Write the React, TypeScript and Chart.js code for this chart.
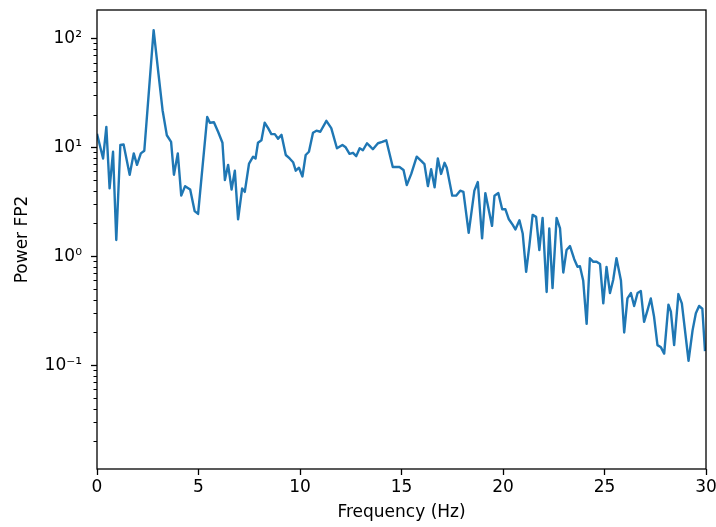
import React, { useEffect, useRef } from "react";
import { Chart, registerables } from "chart.js";

Chart.register(...registerables);

const freqs: number[] = [
  0, 0.30, 0.46, 0.62, 0.79, 0.95, 1.15, 1.31, 1.61, 1.81, 1.97, 2.16, 2.33, 2.79, 3.03, 3.23, 3.44, 3.65, 3.79, 3.98,
  4.15, 4.34, 4.59, 4.81, 4.98, 5.43, 5.56, 5.76, 5.97, 6.18, 6.30, 6.46, 6.63, 6.79, 6.95, 7.15, 7.28, 7.49, 7.69, 7.81,
  7.93, 8.10, 8.26, 8.43, 8.59, 8.76, 8.92, 9.09, 9.30, 9.49, 9.66, 9.79, 9.95, 10.12, 10.28, 10.44, 10.64, 10.81, 11.00, 11.30,
  11.54, 11.82, 12.09, 12.25, 12.44, 12.61, 12.77, 12.94, 13.10, 13.30, 13.43, 13.59, 13.84, 14.05, 14.25, 14.57, 14.90, 15.10, 15.26, 15.48,
  15.75, 15.97, 16.13, 16.30, 16.46, 16.63, 16.79, 16.95, 17.12, 17.23, 17.50, 17.69, 17.89, 18.05, 18.31, 18.59, 18.76, 18.97, 19.13, 19.46,
  19.58, 19.77, 19.96, 20.12, 20.28, 20.48, 20.61, 20.81, 20.97, 21.14, 21.30, 21.46, 21.63, 21.79, 21.95, 22.15, 22.28, 22.44, 22.64, 22.81,
  22.97, 23.13, 23.30, 23.51, 23.67, 23.79, 23.95, 24.12, 24.28, 24.45, 24.61, 24.78, 24.94, 25.10, 25.27, 25.43, 25.59, 25.81, 25.97, 26.13,
  26.30, 26.46, 26.63, 26.79, 26.95, 27.12, 27.28, 27.44, 27.61, 27.78, 27.94, 28.15, 28.27, 28.43, 28.64, 28.81, 29.14, 29.34, 29.50, 29.66,
  29.82, 29.95,
];

const powerFP2: number[] = [
  13.3, 7.9, 15.4, 4.2, 9.1, 1.41, 10.5, 10.6, 5.6, 8.8, 6.9, 8.8, 9.3, 119, 47, 21.9, 12.9, 11.2, 5.6, 8.8,
  3.6, 4.4, 4.1, 2.6, 2.45, 19, 16.8, 17, 13.8, 11, 5.0, 6.9, 4.1, 6.1, 2.18, 4.2, 3.9, 7.1, 8.2, 7.9,
  11, 11.6, 16.8, 15, 13.2, 13.2, 12, 13, 8.5, 7.9, 7.3, 6.1, 6.5, 5.4, 8.5, 9.1, 13.6, 14.2, 13.9, 17.5,
  15, 9.8, 10.5, 10, 8.7, 8.9, 8.3, 9.8, 9.4, 10.9, 10.3, 9.6, 10.9, 11.2, 11.6, 6.6, 6.6, 6.2, 4.5, 5.7,
  8.2, 7.5, 7.0, 4.4, 6.3, 4.3, 7.9, 5.7, 7.2, 6.5, 3.6, 3.6, 4.0, 3.9, 1.64, 4.0, 4.8, 1.46, 3.8, 1.9,
  3.6, 3.8, 2.7, 2.7, 2.2, 1.94, 1.76, 2.14, 1.62, 0.72, 1.26, 2.4, 2.3, 1.14, 2.25, 0.47, 1.8, 0.51, 2.25, 1.8,
  0.71, 1.14, 1.24, 0.94, 0.8, 0.81, 0.6, 0.24, 0.96, 0.89, 0.89, 0.85, 0.37, 0.8, 0.46, 0.61, 0.96, 0.6, 0.2, 0.41,
  0.46, 0.35, 0.46, 0.48, 0.25, 0.32, 0.41, 0.28, 0.153, 0.146, 0.128, 0.36, 0.31, 0.153, 0.45, 0.37, 0.11, 0.21, 0.3, 0.35,
  0.33, 0.135,
];

const xTicks: number[] = [0, 5, 10, 15, 20, 25, 30];
const yMajorTicks: number[] = [0.1, 1, 10, 100];
const yMajorLabels: string[] = ["10\u207B\u00B9", "10\u2070", "10\u00B9", "10\u00B2"];

const FONT = "'DejaVu Sans', sans-serif";

const boxPlugin = {
  id: "mplBox",
  afterDraw(chart: any) {
    const { ctx, chartArea } = chart;
    const y = chart.scales.y;
    ctx.save();
    ctx.strokeStyle = "#000";
    ctx.lineWidth = 1;
    for (let d = -3; d <= 3; d++) {
      for (let m = 2; m <= 9; m++) {
        const v = m * Math.pow(10, d);
        if (v < y.min || v > y.max) continue;
        const py = Math.round(y.getPixelForValue(v)) + 0.5;
        ctx.beginPath();
        ctx.moveTo(chartArea.left - 3.5, py);
        ctx.lineTo(chartArea.left, py);
        ctx.stroke();
      }
    }
    ctx.lineWidth = 1.3;
    ctx.strokeStyle = "#000";
    ctx.strokeRect(chartArea.left, chartArea.top, chartArea.right - chartArea.left, chartArea.bottom - chartArea.top);
    ctx.restore();
  },
};

export default function App() {
  const canvasRef = useRef<HTMLCanvasElement | null>(null);

  useEffect(() => {
    document.body.style.margin = "0";
    const canvas = canvasRef.current;
    if (!canvas) return;
    const data = freqs.map((f, i) => ({ x: f, y: powerFP2[i] }));
    const chart = new Chart(canvas, {
      type: "line",
      data: {
        datasets: [
          {
            data,
            borderColor: "#1f77b4",
            borderWidth: 2.4,
            pointRadius: 0,
            tension: 0,
            borderJoinStyle: "round",
            fill: false,
          },
        ],
      },
      options: {
        responsive: false,
        animation: false,
        events: [],
        layout: { padding: { top: 10, right: 10, left: 0, bottom: 0 } },
        plugins: { legend: { display: false }, tooltip: { enabled: false } },
        scales: {
          x: {
            type: "linear",
            min: 0,
            max: 30,
            afterBuildTicks: (scale: any) => {
              scale.ticks = xTicks.map((v) => ({ value: v }));
            },
            afterFit: (scale: any) => {
              scale.height = 58;
              scale.paddingLeft = 0;
              scale.paddingRight = 0;
            },
            grid: {
              drawOnChartArea: false,
              drawTicks: true,
              tickLength: 6,
              tickColor: "#000",
              tickWidth: 1.3,
              color: "#000",
            },
            border: { display: false },
            ticks: {
              color: "#000",
              font: { family: FONT, size: 17 },
              padding: 2,
              maxRotation: 0,
              autoSkip: false,
            },
            title: {
              display: true,
              text: "Frequency (Hz)",
              color: "#000",
              font: { family: FONT, size: 17 },
              padding: { top: 0, bottom: 4 },
            },
          },
          y: {
            type: "logarithmic",
            min: Math.pow(10, -1.952),
            max: Math.pow(10, 2.26),
            afterBuildTicks: (scale: any) => {
              scale.ticks = yMajorTicks.map((v) => ({ value: v, major: true }));
            },
            afterFit: (scale: any) => {
              scale.width = 97;
              scale.paddingTop = 0;
              scale.paddingBottom = 0;
            },
            grid: {
              drawOnChartArea: false,
              drawTicks: true,
              tickLength: 6,
              tickColor: "#000",
              tickWidth: 1.3,
              color: "#000",
            },
            border: { display: false },
            ticks: {
              color: "#000",
              font: { family: FONT, size: 17 },
              padding: 9,
              autoSkip: false,
              callback: (value: any) => {
                const idx = yMajorTicks.findIndex((t) => Math.abs(t - Number(value)) / t < 1e-6);
                return idx >= 0 ? yMajorLabels[idx] : "";
              },
            },
            title: {
              display: true,
              text: "Power FP2",
              color: "#000",
              font: { family: FONT, size: 17 },
              padding: { top: 12, bottom: 0 },
            },
          },
        },
      },
      plugins: [boxPlugin],
    } as any);
    return () => chart.destroy();
  }, []);

  return (
    <div style={{ position: "absolute", left: 0, top: 0, width: 716, height: 527, background: "#fff" }}>
      <canvas ref={canvasRef} width={716} height={527} />
    </div>
  );
}
